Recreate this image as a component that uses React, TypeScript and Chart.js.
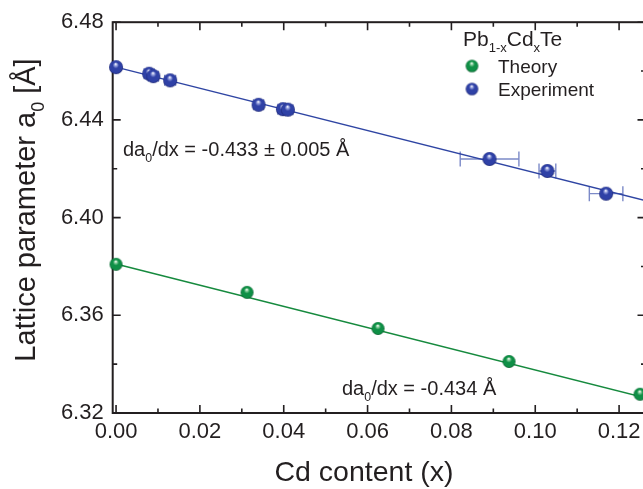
import { useEffect, useRef } from "react";
import { Chart, registerables } from "chart.js";

Chart.register(...registerables);

// Calculated lattice parameters (supercell compositions)
const theoryX = [0, 0.03125, 0.0625, 0.09375, 0.125];
const theoryY = [6.3809, 6.3694, 6.3546, 6.3411, 6.3277];

// Measured lattice parameters with composition uncertainty
const expX = [0.0, 0.0079, 0.0089, 0.0129, 0.034, 0.0398, 0.041, 0.0891, 0.1029, 0.1169];
const expY = [6.4616, 6.4589, 6.4579, 6.4562, 6.4462, 6.4444, 6.4442, 6.424, 6.4191, 6.4098];
const expXErr = [0, 0.0012, 0.0012, 0.0013, 0.0012, 0.0012, 0.0012, 0.007, 0.002, 0.004];

// Linear fits: intercept at x = 0 and slope da0/dx
const expIntercept = 6.4616;
const expSlope = -0.433;
const theoryIntercept = 6.381;
const theorySlope = -0.434;
const fitRange = [0, 0.13];

// Axis ticks
const xMajor = [0, 0.02, 0.04, 0.06, 0.08, 0.1, 0.12];
const xMinor = [0.01, 0.03, 0.05, 0.07, 0.09, 0.11];
const yMajor = [6.32, 6.36, 6.4, 6.44, 6.48];
const yMinor = [6.34, 6.38, 6.42, 6.46];

const FONT = '"Liberation Sans", Arial, Helvetica, sans-serif';
const INK = "#231f20";
const BLUE = "#2f45a3";
const GREEN = "#168a3e";
const ERR = "#7c8ac8";

type Part = { t: string; sub?: boolean };

function makeBall(r: number, light: string, base: string, dark: string) {
  const s = Math.ceil(r * 2 + 2);
  const c = document.createElement("canvas");
  c.width = s;
  c.height = s;
  const g = c.getContext("2d")!;
  const cx = s / 2;
  const cy = s / 2;
  const grad = g.createRadialGradient(cx - r * 0.05, cy - r * 0.45, r * 0.04, cx, cy, r);
  grad.addColorStop(0, "#ffffff");
  grad.addColorStop(0.14, light);
  grad.addColorStop(0.42, base);
  grad.addColorStop(0.85, base);
  grad.addColorStop(1, dark);
  g.fillStyle = grad;
  g.beginPath();
  g.arc(cx, cy, r, 0, Math.PI * 2);
  g.fill();
  return c;
}

function richWidth(ctx: CanvasRenderingContext2D, parts: Part[], size: number) {
  let w = 0;
  for (const p of parts) {
    ctx.font = `${p.sub ? size * 0.62 : size}px ${FONT}`;
    w += ctx.measureText(p.t).width;
  }
  return w;
}

function drawRich(
  ctx: CanvasRenderingContext2D,
  parts: Part[],
  x: number,
  y: number,
  size: number,
  align: "left" | "center" = "left"
) {
  let cx = align === "center" ? x - richWidth(ctx, parts, size) / 2 : x;
  ctx.textAlign = "left";
  ctx.textBaseline = "alphabetic";
  ctx.fillStyle = INK;
  for (const p of parts) {
    const fs = p.sub ? size * 0.62 : size;
    ctx.font = `${fs}px ${FONT}`;
    ctx.fillText(p.t, cx, p.sub ? y + size * 0.3 : y);
    cx += ctx.measureText(p.t).width;
  }
}

export default function App() {
  const ref = useRef<HTMLCanvasElement>(null);

  useEffect(() => {
    const blueBall = makeBall(7, "#a6b0e6", "#2f41a6", "#1a2370");
    const greenBall = makeBall(6.5, "#9ad8aa", "#0f8f46", "#045526");
    const blueLegend = makeBall(6.3, "#a6b0e6", "#2f41a6", "#1a2370");
    const greenLegend = makeBall(6.3, "#9ad8aa", "#0f8f46", "#045526");

    const framePlugin = {
      id: "frameAndErrors",
      beforeDatasetsDraw(chart: any) {
        const { ctx, chartArea: a, scales } = chart;
        const xs = scales.x;
        const ys = scales.y;
        ctx.save();
        ctx.strokeStyle = INK;
        ctx.lineWidth = 2;
        ctx.strokeRect(a.left, a.top, a.right - a.left, a.bottom - a.top);
        ctx.lineWidth = 1.6;
        ctx.beginPath();
        const tickX = (vals: number[], len: number) => {
          for (const v of vals) {
            const px = xs.getPixelForValue(v);
            ctx.moveTo(px, a.bottom);
            ctx.lineTo(px, a.bottom - len);
            ctx.moveTo(px, a.top);
            ctx.lineTo(px, a.top + len);
          }
        };
        const tickY = (vals: number[], len: number) => {
          for (const v of vals) {
            const py = ys.getPixelForValue(v);
            ctx.moveTo(a.left, py);
            ctx.lineTo(a.left + len, py);
            ctx.moveTo(a.right, py);
            ctx.lineTo(a.right - len, py);
          }
        };
        tickX(xMajor, 8);
        tickX(xMinor, 4.5);
        tickY(yMajor, 8);
        tickY(yMinor, 4.5);
        ctx.stroke();

        // horizontal error bars of the measured points
        ctx.strokeStyle = ERR;
        ctx.lineWidth = 1.4;
        ctx.beginPath();
        expX.forEach((x, i) => {
          const e = expXErr[i];
          if (!e) return;
          const py = ys.getPixelForValue(expY[i]);
          const x0 = xs.getPixelForValue(x - e);
          const x1 = xs.getPixelForValue(x + e);
          const cap = e > 0.0015 ? 7.5 : 5.5;
          ctx.moveTo(x0, py);
          ctx.lineTo(x1, py);
          ctx.moveTo(x0, py - cap);
          ctx.lineTo(x0, py + cap);
          ctx.moveTo(x1, py - cap);
          ctx.lineTo(x1, py + cap);
        });
        ctx.stroke();
        ctx.restore();
      },
      afterDraw(chart: any) {
        const { ctx } = chart;
        ctx.save();
        // axis titles
        drawRich(ctx, [{ t: "Cd content (x)" }], 364, 481, 28.5, "center");
        ctx.save();
        ctx.translate(35, 210);
        ctx.rotate(-Math.PI / 2);
        drawRich(
          ctx,
          [{ t: "Lattice parameter a" }, { t: "0", sub: true }, { t: " [Å]" }],
          0,
          0,
          29,
          "center"
        );
        ctx.restore();

        // legend
        drawRich(
          ctx,
          [{ t: "Pb" }, { t: "1-x", sub: true }, { t: "Cd" }, { t: "x", sub: true }, { t: "Te" }],
          463,
          46,
          21
        );
        ctx.drawImage(greenLegend, 472 - greenLegend.width / 2, 66 - greenLegend.height / 2);
        ctx.drawImage(blueLegend, 472 - blueLegend.width / 2, 89 - blueLegend.height / 2);
        drawRich(ctx, [{ t: "Theory" }], 498, 73, 19);
        drawRich(ctx, [{ t: "Experiment" }], 498, 96, 19);

        // slope annotations
        drawRich(
          ctx,
          [{ t: "da" }, { t: "0", sub: true }, { t: `/dx = ${expSlope.toFixed(3)} ± 0.005 Å` }],
          123,
          156,
          20
        );
        drawRich(
          ctx,
          [{ t: "da" }, { t: "0", sub: true }, { t: `/dx = ${theorySlope.toFixed(3)} Å` }],
          342,
          395,
          20
        );
        ctx.restore();
      },
    };

    const fit = (b: number, m: number) => fitRange.map((x) => ({ x, y: b + m * x }));

    const chart = new Chart(ref.current!, {
      type: "scatter",
      data: {
        datasets: [
          {
            label: "Theory fit",
            data: fit(theoryIntercept, theorySlope),
            showLine: true,
            borderColor: GREEN,
            borderWidth: 1.5,
            pointRadius: 0,
            order: 3,
          },
          {
            label: "Experiment fit",
            data: fit(expIntercept, expSlope),
            showLine: true,
            borderColor: BLUE,
            borderWidth: 1.5,
            pointRadius: 0,
            order: 3,
          },
          {
            label: "Theory",
            data: theoryX.map((x, i) => ({ x, y: theoryY[i] })),
            pointStyle: greenBall,
            pointRadius: 6,
            clip: false,
            order: 1,
          },
          {
            label: "Experiment",
            data: expX.map((x, i) => ({ x, y: expY[i] })),
            pointStyle: blueBall,
            pointRadius: 6,
            clip: false,
            order: 1,
          },
        ],
      },
      options: {
        responsive: false,
        animation: false,
        layout: { padding: { left: 0, top: 17, right: 16.5, bottom: 0 } },
        plugins: { legend: { display: false }, tooltip: { enabled: false } },
        events: [],
        scales: {
          x: {
            type: "linear",
            min: -0.0008,
            max: 0.1263,
            grid: { display: false, drawTicks: false },
            border: { display: false },
            afterBuildTicks: (s: any) => {
              s.ticks = xMajor.map((value) => ({ value }));
            },
            afterFit: (s: any) => {
              s.height = 76;
            },
            ticks: {
              color: INK,
              font: { family: FONT, size: 22 },
              padding: 6,
              maxRotation: 0,
              autoSkip: false,
              callback: (v: any) => Number(v).toFixed(2),
            },
          },
          y: {
            type: "linear",
            min: 6.32,
            max: 6.48,
            grid: { display: false, drawTicks: false },
            border: { display: false },
            afterBuildTicks: (s: any) => {
              s.ticks = yMajor.map((value) => ({ value }));
            },
            afterFit: (s: any) => {
              s.width = 112.7;
            },
            ticks: {
              color: INK,
              font: { family: FONT, size: 22 },
              padding: 9,
              autoSkip: false,
              callback: (v: any) => Number(v).toFixed(2),
            },
          },
        },
      },
      plugins: [framePlugin],
    } as any);

    return () => chart.destroy();
  }, []);

  return (
    <div
      style={{
        position: "fixed",
        left: 0,
        top: 0,
        width: 643,
        height: 489,
        overflow: "hidden",
        background: "#ffffff",
      }}
    >
      <canvas ref={ref} width={662} height={489} style={{ display: "block" }} />
    </div>
  );
}
